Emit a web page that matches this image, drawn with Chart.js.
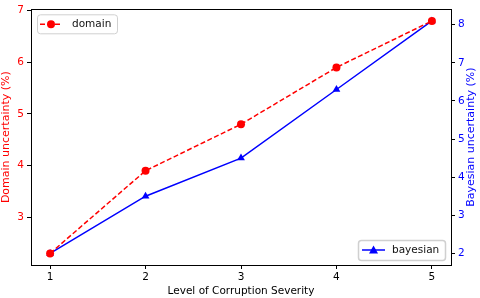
<!DOCTYPE html>
<html>
<head>
<meta charset="utf-8">
<script src="https://cdn.jsdelivr.net/npm/chart.js@4"></script>
<style>
  body { margin: 0; background: #fff; }
  canvas { display: block; }
</style>
</head>
<body>
<canvas id="myChart" width="480" height="298"></canvas>
<script>
// values
const levels = [1, 2, 3, 4, 5];
const domainVals = [2.3, 3.9, 4.8, 5.9, 6.8];
const bayesVals = [2.0, 3.5, 4.5, 6.3, 8.1];
const xTicks = [1, 2, 3, 4, 5];
const leftTicks = [3, 4, 5, 6, 7];
const rightTicks = [2, 3, 4, 5, 6, 7, 8];

const FONT = 'DejaVu Sans';
const RED = '#ff0000';
const BLUE = '#0000ff';

const pts = (vals) => levels.map((x, i) => ({ x: x, y: vals[i] }));

const setTicks = (list) => (scale) => {
    scale.ticks = list.map(v => ({ value: v }));
};

// box, both legends and the right axis title (reads bottom to top like matplotlib)
const extras = {
    id: 'extras',
    afterDraw(chart) {
        const ctx = chart.ctx;
        const a = chart.chartArea;
        ctx.save();
        ctx.strokeStyle = '#000';
        ctx.lineWidth = 1;
        ctx.strokeRect(Math.round(a.left) + 0.5, Math.round(a.top) + 0.5,
            Math.round(a.right - a.left), Math.round(a.bottom - a.top));

        const legendBox = (x, y, w, h) => {
            ctx.beginPath();
            ctx.roundRect(x + 0.5, y + 0.5, w, h, 3);
            ctx.fillStyle = 'rgba(255,255,255,0.8)';
            ctx.fill();
            ctx.strokeStyle = '#d0d0d0';
            ctx.stroke();
        };

        // domain legend
        legendBox(a.left + 6, a.top + 5, 80, 19);
        let ly = a.top + 15;
        ctx.strokeStyle = RED;
        ctx.lineWidth = 1.5;
        ctx.setLineDash([5, 2.5]);
        ctx.beginPath();
        ctx.moveTo(a.left + 9, ly);
        ctx.lineTo(a.left + 31, ly);
        ctx.stroke();
        ctx.setLineDash([]);
        ctx.fillStyle = RED;
        ctx.beginPath();
        ctx.arc(a.left + 20, ly, 4, 0, Math.PI * 2);
        ctx.fill();
        ctx.fillStyle = '#111';
        ctx.font = '10.5px ' + FONT;
        ctx.textBaseline = 'middle';
        ctx.textAlign = 'left';
        ctx.fillText('domain', a.left + 41, ly);

        // bayesian legend
        const bx = a.right - 93;
        const by = a.bottom - 25;
        legendBox(bx, by, 87, 20);
        ly = by + 10;
        ctx.strokeStyle = BLUE;
        ctx.lineWidth = 1.5;
        ctx.beginPath();
        ctx.moveTo(bx + 4, ly);
        ctx.lineTo(bx + 27, ly);
        ctx.stroke();
        ctx.fillStyle = BLUE;
        ctx.beginPath();
        ctx.moveTo(bx + 15.5, ly - 4.5);
        ctx.lineTo(bx + 20, ly + 3.5);
        ctx.lineTo(bx + 11, ly + 3.5);
        ctx.closePath();
        ctx.fill();
        ctx.fillStyle = '#111';
        ctx.fillText('bayesian', bx + 34, ly);

        // right title
        ctx.translate(471, (a.top + a.bottom) / 2);
        ctx.rotate(-Math.PI / 2);
        ctx.textAlign = 'center';
        ctx.fillStyle = BLUE;
        ctx.font = '11px ' + FONT;
        ctx.fillText('Bayesian uncertainty (%)', 0, 0);
        ctx.restore();
    }
};

const renderChart = () => {
    const ctx = document.getElementById('myChart').getContext('2d');
    new Chart(ctx, {
        type: 'line',
        data: {
            datasets: [{
                label: 'domain',
                data: pts(domainVals),
                yAxisID: 'y',
                borderColor: RED,
                backgroundColor: RED,
                borderWidth: 1.5,
                borderDash: [5, 2.5],
                pointStyle: 'circle',
                pointRadius: 4,
                pointBorderWidth: 0,
                tension: 0
            }, {
                label: 'bayesian',
                data: pts(bayesVals),
                yAxisID: 'y1',
                borderColor: BLUE,
                backgroundColor: BLUE,
                borderWidth: 1.5,
                pointStyle: 'triangle',
                pointRadius: 4.5,
                pointBorderWidth: 0,
                tension: 0
            }]
        },
        options: {
            responsive: false,
            animation: false,
            devicePixelRatio: 1,
            layout: { padding: { top: 3, left: 0, right: 0, bottom: 0 } },
            plugins: { legend: { display: false }, tooltip: { enabled: false } },
            scales: {
                x: {
                    type: 'linear',
                    min: 0.8,
                    max: 5.2,
                    afterBuildTicks: setTicks(xTicks),
                    afterFit: (s) => { s.height = 33; },
                    grid: { drawOnChartArea: false, color: '#000', tickLength: 4 },
                    border: { color: '#000' },
                    ticks: { color: '#000', font: { family: FONT, size: 10.5 }, padding: 2 },
                    title: {
                        display: true,
                        text: 'Level of Corruption Severity',
                        color: '#000',
                        font: { family: FONT, size: 10.5 },
                        padding: { top: 2, bottom: 0 }
                    }
                },
                y: {
                    position: 'left',
                    min: 2.075,
                    max: 7.025,
                    afterBuildTicks: setTicks(leftTicks),
                    afterFit: (s) => { s.width = 31; },
                    grid: { drawOnChartArea: false, color: '#000', tickLength: 4 },
                    border: { color: '#000' },
                    ticks: { color: RED, font: { family: FONT, size: 10.5 }, padding: 3 },
                    title: {
                        display: true,
                        text: 'Domain uncertainty (%)',
                        color: RED,
                        font: { family: FONT, size: 11 },
                        padding: 0
                    }
                },
                y1: {
                    position: 'right',
                    min: 1.695,
                    max: 8.405,
                    afterBuildTicks: setTicks(rightTicks),
                    afterFit: (s) => { s.width = 29; },
                    grid: { drawOnChartArea: false, color: '#000', tickLength: 4 },
                    border: { color: '#000' },
                    ticks: { color: BLUE, font: { family: FONT, size: 10.5 }, padding: 3 }
                }
            }
        },
        plugins: [extras]
    });
};

document.addEventListener('DOMContentLoaded', renderChart);
</script>
</body>
</html>
